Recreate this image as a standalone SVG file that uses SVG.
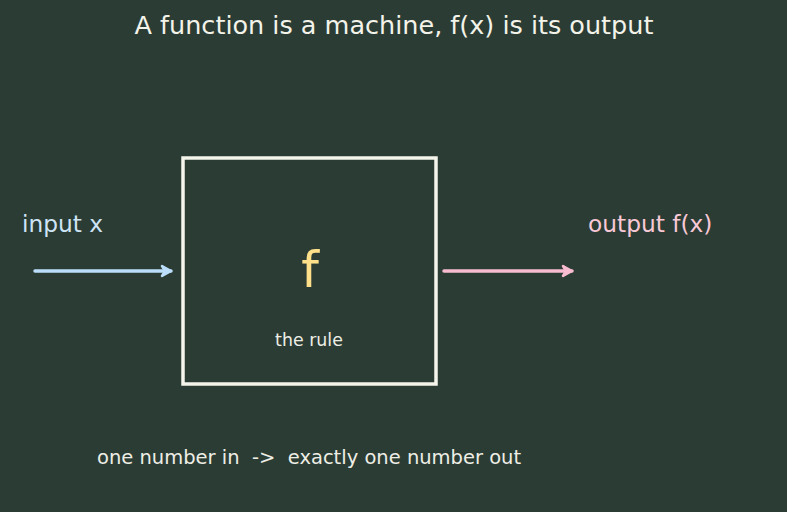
<svg xmlns="http://www.w3.org/2000/svg" width="787" height="512" viewBox="0 0 787 512">
<defs>
<style>
text{font-family:"DejaVu Sans","Liberation Sans",sans-serif;}
.conn{fill:none;stroke-width:3.5;stroke-linecap:round;stroke-linejoin:round;}
</style>
<marker id="ahBlue" markerUnits="userSpaceOnUse" markerWidth="20" markerHeight="20" refX="14" refY="10" orient="auto">
<path d="M5,5 L14,10 L5,15 L8,10 Z" fill="#bbdefb" stroke="#bbdefb" stroke-width="2.5" stroke-linejoin="round"/>
</marker>
<marker id="ahPink" markerUnits="userSpaceOnUse" markerWidth="20" markerHeight="20" refX="14" refY="10" orient="auto">
<path d="M5,5 L14,10 L5,15 L8,10 Z" fill="#f8bbd0" stroke="#f8bbd0" stroke-width="2.5" stroke-linejoin="round"/>
</marker>
</defs>
<rect x="0" y="0" width="787" height="512" fill="#2b3c34"/>
<text id="title" x="394" y="34" font-size="25.5" fill="#f3f3ea" text-anchor="middle">A function is a machine, f(x) is its output</text>
<g id="machine">
<rect x="183" y="158" width="253" height="226" fill="none" stroke="#f5f5ec" stroke-width="3.5"/>
<text x="310" y="287" font-size="50" fill="#ffe08a" text-anchor="middle">f</text>
<text x="309" y="346" font-size="17.4" fill="#eeeee6" text-anchor="middle">the rule</text>
</g>
<g id="input">
<text x="22" y="232" font-size="23.3" fill="#cde4f6">input x</text>
</g>
<g id="output">
<text x="588" y="232" font-size="23.3" fill="#f8c8d6">output f(x)</text>
</g>
<g id="connectors">
<line class="conn" x1="35" y1="271" x2="171" y2="271" stroke="#bbdefb" marker-end="url(#ahBlue)"/>
<line class="conn" x1="444" y1="271" x2="572" y2="271" stroke="#f8bbd0" marker-end="url(#ahPink)"/>
</g>
<text id="note" x="97" y="464" font-size="19.5" fill="#eeeee6" xml:space="preserve" style="white-space:pre">one number in  -&gt;  exactly one number out</text>
</svg>
